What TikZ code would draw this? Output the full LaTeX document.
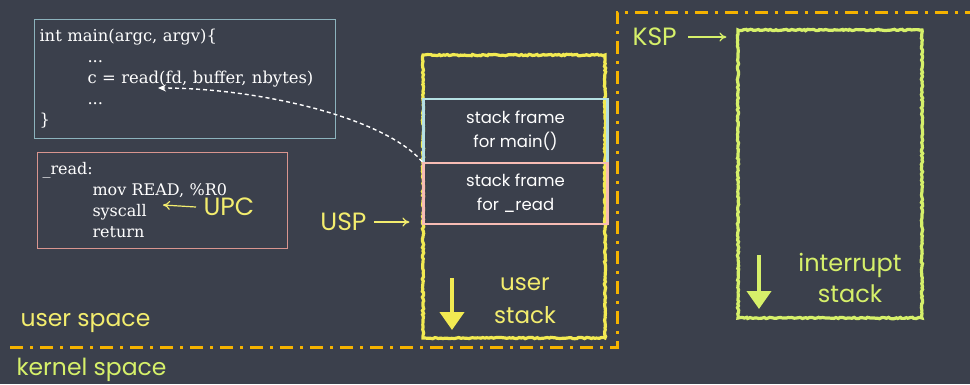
\documentclass[tikz,border=0pt]{standalone}
\usepackage{fontspec}
\newfontfamily\chalk{Poppins}
\newfontfamily\codefont{DejaVu Serif}
\usetikzlibrary{positioning,arrows.meta,decorations.pathmorphing}

\definecolor{board}{HTML}{3B404C}
\definecolor{codeblue}{HTML}{8CB3BD}
\definecolor{codepink}{HTML}{D9958F}
\definecolor{chalkyel}{HTML}{F2EA52}
\definecolor{textyel}{HTML}{F3ED6E}
\definecolor{frameblue}{HTML}{B5E0E3}
\definecolor{framepink}{HTML}{F7BCB4}
\definecolor{border}{HTML}{F5B300}
\definecolor{chalkgrn}{HTML}{D6F06A}

\tikzset{
  codebox/.style={draw, line width=1pt, anchor=north west, align=left, inner xsep=5pt,
    font=\codefont\fontsize{16.4}{21}\selectfont},
  chalkbox/.style={draw, line width=3.2pt, decorate,
    decoration={random steps, segment length=2pt, amplitude=0.7pt}},
  stackframe/.style={draw, line width=2.5pt, minimum width=184pt, align=center,
    font=\chalk\fontsize{16.5}{24}\selectfont},
  chalktext/.style={font=\chalk\fontsize{25}{30}\selectfont},
  ptr/.style={-{To[length=7pt,width=9pt]}, line width=1.2pt},
  growarrow/.style={-{Triangle[length=18pt,width=24pt]}, line width=4pt},
  spaceline/.style={border, line width=3pt, dash pattern=on 13pt off 7pt on 3pt off 7pt}
}

\begin{document}
\begin{tikzpicture}[x=1pt, y=-1pt]
  \useasboundingbox[fill=board] (0,0) rectangle (970,384);

  % code on the left
  \node[codebox, codeblue, text width=291pt, minimum height=119pt] (main) at (34,19)
    {\textcolor{white}{int main(argc, argv)\{}\\
     \hspace*{48pt}\textcolor{white}{...}\\
     \hspace*{48pt}\textcolor{white}{c = read(fd, buffer, nbytes)}\\
     \hspace*{48pt}\textcolor{white}{...}\\
     \textcolor{white}{\}}};
  \node[codebox, codepink, text width=240pt, minimum height=96pt,
    font=\codefont\fontsize{16}{21}\selectfont] (read) at (37,152)
    {\textcolor{white}{\_read:}\\
     \hspace*{50pt}\textcolor{white}{mov READ, \%R0}\\
     \hspace*{50pt}\textcolor{white}{syscall}\\
     \hspace*{50pt}\textcolor{white}{return}};
  \coordinate (retaddr) at (158,88);
  \coordinate (sysc) at (163,205);
  \node[chalktext, textyel, anchor=west] (upc) at (200,207) {UPC};

  % user stack
  \node[chalkbox, chalkyel, minimum width=182pt, minimum height=283pt] (ustack) at (514,196.5) {};
  \node[stackframe, frameblue, text=white, minimum height=64pt] (mainframe) at (515.5,131) {stack frame\\for main()};
  \node[stackframe, framepink, text=white, minimum height=61pt] (readframe) at (515.5,193.5) {stack frame\\for \_read};
  \node[chalktext, textyel, anchor=east] (usp) at (370,222) {USP};
  \node[chalktext, textyel, align=center, font=\chalk\fontsize{23}{33}\selectfont] (ulbl) at (525,301) {user\\stack};
  \coordinate (ugrow) at (452,278);

  % kernel side
  \node[chalkbox, chalkgrn, minimum width=184pt, minimum height=288pt] (istack) at (830,174) {};
  \node[chalktext, chalkgrn, anchor=west] (ksp) at (629,37) {KSP};
  \node[chalktext, chalkgrn, align=center, font=\chalk\fontsize{24}{31}\selectfont] (ilbl) at (850,278) {interrupt\\stack};
  \coordinate (igrow) at (759,255);

  \node[chalktext, textyel, anchor=west, font=\chalk\fontsize{23.5}{24}\selectfont] (uspace) at (17,323) {user space};
  \node[chalktext, chalkgrn, anchor=west, font=\chalk\fontsize{23.5}{24}\selectfont] (kspace) at (13,370) {kernel space};

  % user / kernel border
  \draw[spaceline] (10,347) -- (617,347) -- (617,12) -- (975,12);

  % pointers
  \draw[ptr, textyel] ([xshift=-4pt]upc.west) -- (sysc);
  \draw[ptr, textyel] ([xshift=4pt]usp.east) -- ([xshift=-12pt]usp.east -| ustack.west);
  \draw[ptr, chalkgrn] ([xshift=8pt]ksp.east) -- ([xshift=-10pt]ksp.east -| istack.west);
  \draw[white, line width=1.4pt, dash pattern=on 4pt off 3pt, -{Stealth[length=8pt,width=7pt]}]
    (readframe.north west) .. controls (385,118) and (260,88) .. (retaddr);
  \draw[growarrow, chalkyel] (ugrow) -- ++(0,52);
  \draw[growarrow, chalkgrn] (igrow) -- ++(0,54);
\end{tikzpicture}
\end{document}
